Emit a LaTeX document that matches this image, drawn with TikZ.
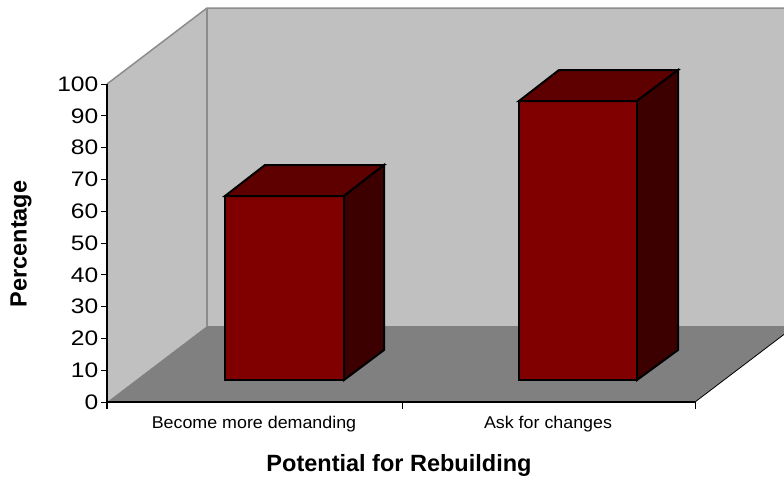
\documentclass[tikz,border=0pt]{standalone}
\usepackage{fontspec}
\setmainfont{Liberation Sans}
\newfontfamily\numfont[FakeStretch=1.17]{Liberation Sans}
\newfontfamily\catfont[FakeStretch=1.05]{Liberation Sans}
\definecolor{wallgray}{HTML}{C0C0C0}
\definecolor{floorgray}{HTML}{808080}
\definecolor{edgegray}{HTML}{8C8C8C}
\definecolor{barfront}{HTML}{800000}
\definecolor{bartop}{HTML}{5E0000}
\definecolor{barside}{HTML}{3C0000}
\tikzset{
  barface/.style={draw=black, line width=2pt, line join=miter},
  ticklabel/.style={font=\numfont\fontsize{21}{21}\selectfont, anchor=east, inner sep=0pt},
  catlabel/.style={font=\catfont\fontsize{17}{17}\selectfont, anchor=center, inner sep=0pt},
  titlelabel/.style={font=\bfseries\fontsize{23.5}{23.5}\selectfont, anchor=center, inner sep=0pt},
}
\begin{document}
\begin{tikzpicture}[x=1pt, y=-1pt]
\useasboundingbox (0,0) rectangle (784,479);
% walls
\fill[wallgray] (207,8) rectangle (784,326);
\fill[wallgray] (107,84) -- (207,8) -- (207,326) -- (107,402) -- cycle;
\fill[floorgray] (107,402) -- (207,326) -- (784,326) -- (784,334.4) -- (695,402) -- cycle;
\draw[edgegray, line width=1.5pt] (107,84) -- (207,8) -- (784,8);
\draw[edgegray, line width=2.5pt] (207,8) -- (207,326);
\draw[black, line width=0.8pt] (695,402) -- (784,334.4);
% axes
\coordinate (o) at (107,402);
\coordinate (yt) at (107,84);
\coordinate (xr) at (695,402);
\draw[black, line width=1.5pt] (yt) -- (107,409);
\draw[black, line width=1.2pt] (o) -- (xr);
\draw[black, line width=1pt] (402,402) -- (402,409);
\draw[black, line width=1pt] (xr) -- (695,409);
\foreach \i in {0,...,10} {
  \pgfmathtruncatemacro{\v}{10*\i}
  \draw[black, line width=1pt] (101,{402-31.8*\i}) -- (107,{402-31.8*\i});
  \node[ticklabel] (t\i) at (98.5,{402-31.8*\i}) {\v};
}
% bar 1
\fill[barfront] (225,196) rectangle (344,380);
\draw[barface, fill=bartop] (225,196) -- (265,165) -- (384,165) -- (344,196) -- cycle;
\draw[barface, fill=barside] (344,196) -- (384,165) -- (384,350) -- (344,380) -- cycle;
\draw[barface] (225,196) rectangle (344,380);
% bar 2
\fill[barfront] (519,101) rectangle (637,380);
\draw[barface, fill=bartop] (519,101) -- (559,70) -- (678,70) -- (637,101) -- cycle;
\draw[barface, fill=barside] (637,101) -- (678,70) -- (678,350) -- (637,380) -- cycle;
\draw[barface] (519,101) rectangle (637,380);
% labels
\node[catlabel] (c1) at (254,424.5) {Become more demanding};
\node[catlabel] (c2) at (548,424.5) {Ask for changes};
\node[titlelabel] (xt) at (399,465) {Potential for Rebuilding};
\node[titlelabel, rotate=90] (yl) at (21,244) {Percentage};
\end{tikzpicture}
\end{document}
